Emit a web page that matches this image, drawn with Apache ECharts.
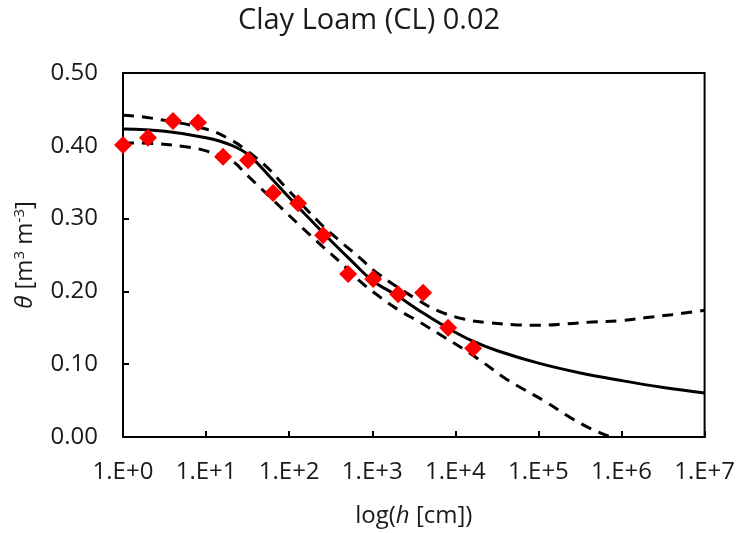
<!DOCTYPE html>
<html>
<head>
<meta charset="utf-8">
<script src="https://cdn.jsdelivr.net/npm/echarts@6/dist/echarts.min.js"></script>
<style>
  html, body { margin: 0; padding: 0; background: #fff; }
  #main { width: 738px; height: 533px; }
</style>
</head>
<body>
<div id="main"></div>
<script>
// measured points (h in cm, theta)
const obsH = [1, 2, 4, 8, 16, 32, 64, 128, 256, 512, 1024, 2048, 4096, 8192, 16384];
const obsTheta = [0.401, 0.411, 0.434, 0.432, 0.385, 0.380, 0.335, 0.321, 0.277, 0.224, 0.217, 0.196, 0.198, 0.150, 0.122];

// fitted curve
const fitH = [1, 3.2, 10, 20, 32, 56, 100, 178, 316, 562, 1000, 2000, 4000, 8000, 16000, 32000, 1e5, 3.2e5, 1e6, 3.2e6, 1e7];
const fitTheta = [0.423, 0.420, 0.411, 0.401, 0.388, 0.360, 0.329, 0.299, 0.270, 0.242, 0.215, 0.194, 0.171, 0.150, 0.132, 0.1185, 0.1015, 0.088, 0.0775, 0.068, 0.0605];

// upper bound (dashed)
const upH = [1, 2.2, 10, 20, 32, 56, 89, 234, 400, 710, 1120, 3550, 6300, 12600, 25000, 56000, 1e5, 2.2e5, 4.5e5, 1e6, 2e6, 4e6, 1e7];
const upTheta = [0.442, 0.438, 0.423, 0.408, 0.392, 0.369, 0.344, 0.294, 0.270, 0.246, 0.226, 0.188, 0.173, 0.162, 0.157, 0.154, 0.1535, 0.1555, 0.158, 0.160, 0.164, 0.168, 0.174];

// lower bound (dashed)
const lowH = [1, 2.5, 5.4, 9.3, 20, 31, 85, 145, 240, 400, 710, 1120, 2040, 3700, 6900, 12600, 21900, 38000, 63000, 126000, 240000, 436000, 740000];
const lowTheta = [0.404, 0.403, 0.399, 0.394, 0.380, 0.360, 0.312, 0.287, 0.264, 0.2415, 0.214, 0.196, 0.175, 0.158, 0.139, 0.1205, 0.102, 0.082, 0.067, 0.0475, 0.027, 0.011, 0.0];

const yTicks = [0, 0.1, 0.2, 0.3, 0.4, 0.5];

function pairs(xs, ys) {
  return xs.map((x, i) => [x, ys[i]]);
}

const font = "Open Sans";
const txt = "#1a1a1a";
const myChart = echarts.init(document.getElementById("main"));

const option = {
  animation: false,
  title: {
    text: "Clay Loam (CL) 0.02",
    left: "center",
    top: 1,
    textStyle: { fontFamily: font, fontSize: 29, fontWeight: "normal", color: txt },
  },
  grid: {
    left: 123,
    right: 33,
    top: 73,
    bottom: 95,
    show: true,
    borderColor: "#000",
    borderWidth: 2,
  },
  xAxis: {
    type: "log",
    logBase: 10,
    min: 1,
    max: 1e7,
    name: "log({i|h} [cm])",
    nameLocation: "middle",
    nameGap: 67,
    nameTextStyle: {
      fontFamily: font, fontSize: 24, color: txt,
      rich: { i: { fontFamily: font, fontSize: 24, fontStyle: "italic", color: txt } },
    },
    axisLine: { lineStyle: { color: "#000", width: 2 } },
    axisTick: { inside: true, length: 6, lineStyle: { color: "#000", width: 2 } },
    splitLine: { show: false },
    minorTick: { show: false },
    axisLabel: {
      margin: 23,
      fontFamily: font,
      fontSize: 24,
      color: txt,
      formatter: (v) => "1.E+" + Math.round(Math.log10(v)),
    },
  },
  yAxis: {
    type: "value",
    min: yTicks[0],
    max: yTicks[yTicks.length - 1],
    interval: 0.1,
    name: "{i|θ} [m{s|3} m{s|-3}]",
    nameLocation: "middle",
    nameGap: 84,
    nameTextStyle: {
      fontFamily: font, fontSize: 24, color: txt,
      rich: {
        i: { fontFamily: font, fontSize: 24, fontStyle: "italic", color: txt },
        s: { fontFamily: font, fontSize: 15, color: txt, padding: [0, 0, 12, 0] },
      },
    },
    axisLine: { show: true, lineStyle: { color: "#000", width: 2 } },
    axisTick: { show: true, inside: true, length: 6, lineStyle: { color: "#000", width: 2 } },
    splitLine: { show: false },
    axisLabel: {
      margin: 25,
      fontFamily: font,
      fontSize: 24,
      color: txt,
      formatter: (v) => v.toFixed(2),
    },
  },
  series: [
    {
      name: "upper",
      type: "line",
      data: pairs(upH, upTheta),
      smooth: 0.4,
      showSymbol: false,
      lineStyle: { color: "#000", width: 3, type: [11, 8] },
      z: 2,
    },
    {
      name: "lower",
      type: "line",
      data: pairs(lowH, lowTheta),
      smooth: 0.4,
      showSymbol: false,
      lineStyle: { color: "#000", width: 3, type: [11, 8] },
      z: 2,
    },
    {
      name: "fit",
      type: "line",
      data: pairs(fitH, fitTheta),
      smooth: 0.4,
      showSymbol: false,
      lineStyle: { color: "#000", width: 3 },
      z: 3,
    },
    {
      name: "observed",
      type: "scatter",
      data: pairs(obsH, obsTheta),
      symbol: "diamond",
      symbolSize: 18,
      itemStyle: { color: "#ff0000", opacity: 1 },
      z: 5,
    },
  ],
};

option && myChart.setOption(option);
</script>
</body>
</html>
